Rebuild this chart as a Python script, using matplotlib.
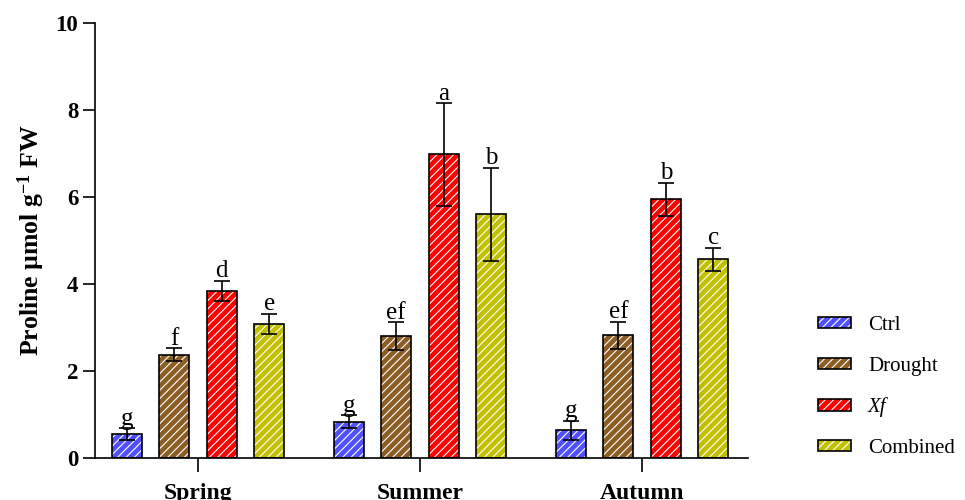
import matplotlib
matplotlib.use('Agg')
import matplotlib.pyplot as plt
from matplotlib.patches import Patch
import numpy as np


plt.rcParams['font.family'] = ['Liberation Serif', 'DejaVu Serif']
plt.rcParams['mathtext.fontset'] = 'custom'
plt.rcParams['mathtext.rm'] = 'Liberation Serif:bold'
plt.rcParams['mathtext.it'] = 'Liberation Serif:italic:bold'
plt.rcParams['mathtext.bf'] = 'Liberation Serif:bold'
plt.rcParams['hatch.linewidth'] = 0.8


# -- data ----------------------------------------------------------------------

seasons = ['Spring', 'Summer', 'Autumn']
treatments = ['Ctrl', 'Drought', 'Xf', 'Combined']
colors = ['#5050ff', '#8c5e24', '#ff0000', '#c0c000']

ctrl = [0.55, 0.83, 0.64]
drought = [2.37, 2.80, 2.82]
xf = [3.84, 6.98, 5.95]
combined = [3.08, 5.60, 4.57]

ctrl_err = [0.13, 0.15, 0.22]
drought_err = [0.15, 0.32, 0.31]
xf_err = [0.24, 1.18, 0.38]
combined_err = [0.24, 1.07, 0.26]

ctrl_letters = ['g', 'g', 'g']
drought_letters = ['f', 'ef', 'ef']
xf_letters = ['d', 'a', 'b']
combined_letters = ['e', 'b', 'c']


# -- plot ----------------------------------------------------------------------

def main():
  fig = plt.figure(figsize=(9.65, 5.0), dpi=100)
  ax = fig.add_axes([95 / 965, 1 - 458 / 500, (748 - 95) / 965, 435 / 500])

  values = [ctrl, drought, xf, combined]
  errors = [ctrl_err, drought_err, xf_err, combined_err]
  letters = [ctrl_letters, drought_letters, xf_letters, combined_letters]

  x = np.arange(len(seasons))
  width = 0.135
  step = 0.214
  hatch = '////'
  handles = []
  for i, (vals, errs, lets, col) in enumerate(zip(values, errors, letters,
                                                  colors)):
    pos = x + (i - 1.5) * step
    ax.bar(pos, vals, width, color=col, edgecolor='white', hatch=hatch,
           linewidth=0, zorder=2)
    ax.bar(pos, vals, width, facecolor='none', edgecolor='black',
           linewidth=1.2, zorder=3)
    ax.errorbar(pos, vals, yerr=errs, fmt='none', ecolor='black',
                elinewidth=1.2, capsize=5.5, capthick=1.2, zorder=4)
    for p, v, e, t in zip(pos, vals, errs, lets):
      ax.annotate(t, (p, v + e), xytext=(0, 2.5), textcoords='offset points',
                  ha='center', va='baseline', fontsize=18)
    handles.append((Patch(facecolor=col, edgecolor='white', hatch=hatch,
                          linewidth=0),
                    Patch(facecolor='none', edgecolor='black',
                          linewidth=1.2)))

  ax.set_xlim(-0.464, 2.477)
  ax.set_ylim(0, 10)
  ax.set_yticks([0, 2, 4, 6, 8, 10])
  ax.set_xticks(x)
  ax.set_xticklabels(seasons, fontsize=17, fontweight='bold')
  for lab in ax.get_yticklabels():
    lab.set_fontsize(16.5)
    lab.set_fontweight('bold')
  ax.tick_params(axis='y', length=9, width=1.2, pad=3)
  ax.tick_params(axis='x', length=10, width=1.2, pad=8)
  ax.spines['top'].set_visible(False)
  ax.spines['right'].set_visible(False)
  ax.spines['left'].set_linewidth(1.2)
  ax.spines['bottom'].set_linewidth(1.2)
  ax.set_ylabel('Proline µmol g$^{-1}$ FW', fontsize=18.5, fontweight='bold',
                labelpad=6)

  leg = fig.legend(handles, treatments, loc='center left',
                   bbox_to_anchor=(818 / 965, 1 - 387 / 500),
                   frameon=False, fontsize=15, borderaxespad=0, borderpad=0,
                   handlelength=1.6, handleheight=0.45, handletextpad=0.8,
                   labelspacing=1.05)
  leg.get_texts()[2].set_fontstyle('italic')

  plt.savefig('out.png', dpi=100)


if __name__ == '__main__':
  main()
